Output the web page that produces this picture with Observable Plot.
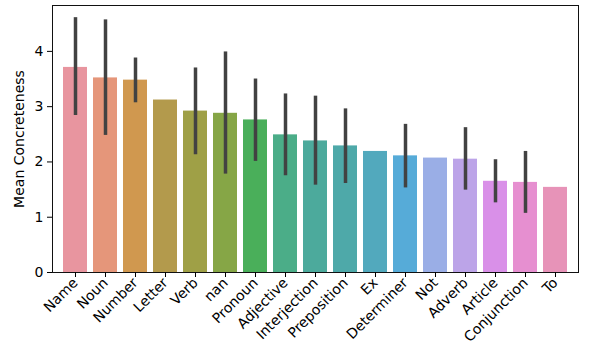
<!DOCTYPE html>
<html>
<head>
<meta charset="utf-8">
<script src="https://cdn.jsdelivr.net/npm/d3@7"></script>
<script src="https://cdn.jsdelivr.net/npm/@observablehq/plot@0.6"></script>
<style>
  html, body { margin: 0; padding: 0; background: #fff; }
  svg { display: block; }
</style>
</head>
<body>
<div id="chart"></div>
<script>
const categories = ["Name","Noun","Number","Letter","Verb","nan","Pronoun","Adjective","Interjection","Preposition","Ex","Determiner","Not","Adverb","Article","Conjunction","To"];
const means = [3.71,3.52,3.48,3.12,2.92,2.88,2.76,2.49,2.38,2.29,2.19,2.11,2.07,2.05,1.65,1.63,1.54];
const ciLow = [2.84,2.48,3.07,null,2.13,1.78,2.01,1.75,1.58,1.61,null,1.53,null,1.49,1.26,1.07,null];
const ciHigh = [4.61,4.57,3.88,null,3.70,3.99,3.50,3.23,3.19,2.96,null,2.68,null,2.62,2.04,2.19,null];
const colors = ["#e8959f","#e5967a","#d0984f","#b39a4c","#9fa046","#86a646","#4aaf5a","#4bad88","#4caa9c","#4ea9a9","#52a9bd","#56abd8","#9aaee6","#bca4e8","#d990e8","#e68fd0","#e793b8"];
const yTicks = [0,1,2,3,4];

const data = categories.map((c, i) => ({category: c, mean: means[i], lo: ciLow[i], hi: ciHigh[i]}));
const errs = data.filter(d => d.lo != null && d.hi != null);

const chart = Plot.plot({
  width: 598,
  height: 344,
  marginLeft: 52,
  marginRight: 20,
  marginTop: 5,
  marginBottom: 72,
  style: {fontFamily: "DejaVu Sans", fontSize: "14px", color: "#000", background: "#fff"},
  x: {domain: categories, paddingInner: 0.2, paddingOuter: 0.1},
  y: {domain: [0, 4.83]},
  color: {domain: categories, range: colors},
  marks: [
    Plot.barY(data, {x: "category", y: "mean", fill: "category"}),
    Plot.ruleX(errs, {x: "category", y1: "lo", y2: "hi", stroke: "#424242", strokeWidth: 3.5}),
    Plot.frame({stroke: "#111", strokeWidth: 1}),
    Plot.axisY({ticks: yTicks, tickSize: 5, tickPadding: 4, tickFormat: d3.format("d"), fontSize: 14,
      label: "Mean Concreteness", labelAnchor: "center", labelArrow: "none", labelOffset: 38}),
    Plot.axisX({tickSize: 5, tickPadding: 3, tickRotate: -45, fontSize: 14, label: null})
  ]
});
document.getElementById("chart").appendChild(chart);
</script>
</body>
</html>
